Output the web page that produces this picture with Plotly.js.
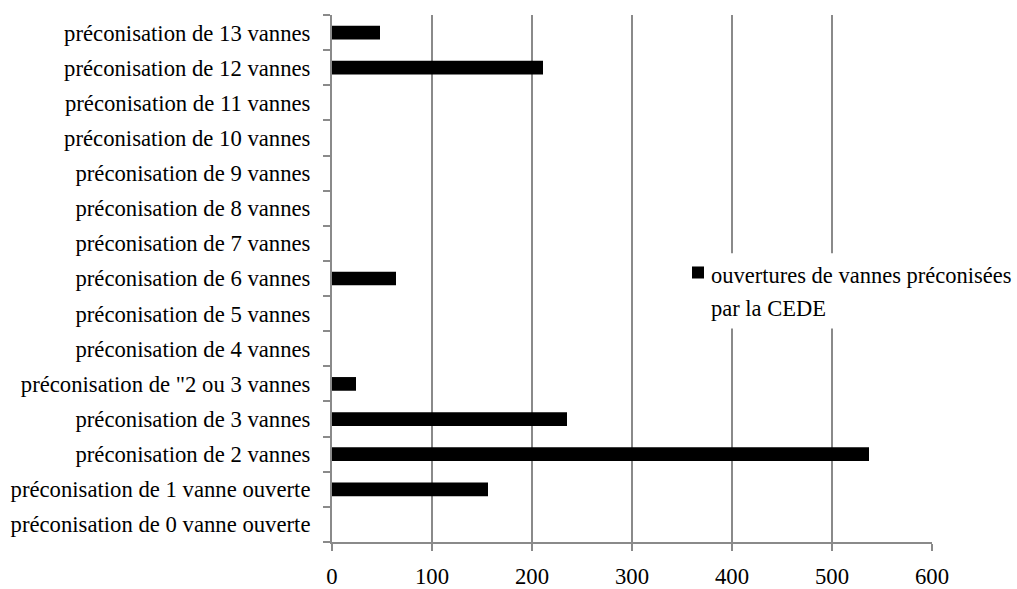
<!DOCTYPE html>
<html>
<head>
<meta charset="utf-8">
<script src="https://cdn.plot.ly/plotly-3.0.1.min.js"></script>
<style>html,body{margin:0;padding:0;background:#fff;}#chart{width:1017px;height:589px;}</style>
</head>
<body>
<div id="chart"></div>
<script>
var categories = [
  "préconisation de 0 vanne ouverte",
  "préconisation de 1 vanne ouverte",
  "préconisation de 2 vannes",
  "préconisation de 3 vannes",
  "préconisation de \"2 ou 3 vannes",
  "préconisation de 4 vannes",
  "préconisation de 5 vannes",
  "préconisation de 6 vannes",
  "préconisation de 7 vannes",
  "préconisation de 8 vannes",
  "préconisation de 9 vannes",
  "préconisation de 10 vannes",
  "préconisation de 11 vannes",
  "préconisation de 12 vannes",
  "préconisation de 13 vannes"
];
var values = [0, 156, 537, 235, 24, 0, 0, 64, 0, 0, 0, 0, 0, 211, 48];
var legendLines = ["ouvertures de vannes préconisées", "par la CEDE"];
var xTicks = [0, 100, 200, 300, 400, 500, 600];

var serif = "Liberation Serif";
var fsize = 22.7;
var legSize = 22.5;
var trace = {
  type: "bar",
  orientation: "h",
  y: categories,
  x: values,
  name: legendLines.join(" "),
  marker: {color: "#000000", line: {width: 0}},
  showlegend: false,
  hoverinfo: "x+y"
};
var layout = {
  width: 1017, height: 589,
  margin: {l: 332, r: 85, t: 15, b: 47},
  paper_bgcolor: "#ffffff", plot_bgcolor: "#ffffff",
  bargap: 0.61,
  showlegend: false,
  shapes: [
    {type: "rect", xref: "paper", yref: "paper", x0: 0.58, x1: 1.2, y0: 0.405, y1: 0.548,
     fillcolor: "#ffffff", line: {width: 0}, layer: "above"},
    {type: "rect", xref: "paper", yref: "paper", x0: 0.6, x1: 0.62, y0: 0.5, y1: 0.5228,
     fillcolor: "#000000", line: {width: 0}, layer: "above"}
  ],
  annotations: [
    {xref: "paper", yref: "paper", x: 0.6283, y: 0.5066, xanchor: "left", yanchor: "middle",
     text: legendLines[0], showarrow: false, font: {family: serif, size: legSize, color: "#000000"}},
    {xref: "paper", yref: "paper", x: 0.6283, y: 0.444, xanchor: "left", yanchor: "middle",
     text: legendLines[1], showarrow: false, font: {family: serif, size: legSize, color: "#000000"}}
  ],
  xaxis: {
    range: [0, 600],
    tickvals: xTicks,
    ticktext: xTicks.map(String),
    showgrid: true, gridcolor: "#8a8a8a", gridwidth: 2,
    zeroline: false,
    showline: true, linecolor: "#8a8a8a", linewidth: 2,
    ticks: "outside", ticklen: 7, tickcolor: "#8a8a8a", tickwidth: 2,
    ticklabelstandoff: 6,
    tickfont: {family: serif, size: fsize, color: "#000000"},
    fixedrange: true
  },
  yaxis: {
    type: "category",
    categoryorder: "array", categoryarray: categories,
    range: [-0.5, 14.5],
    showgrid: false, zeroline: false,
    showline: true, linecolor: "#8a8a8a", linewidth: 2,
    ticks: "outside", tickson: "boundaries", ticklen: 7, tickcolor: "#8a8a8a", tickwidth: 2,
    ticklabelstandoff: 15,
    tickfont: {family: serif, size: fsize, color: "#000000"},
    fixedrange: true
  }
};
Plotly.newPlot("chart", [trace], layout, {staticPlot: true, displayModeBar: false});
</script>
</body>
</html>
